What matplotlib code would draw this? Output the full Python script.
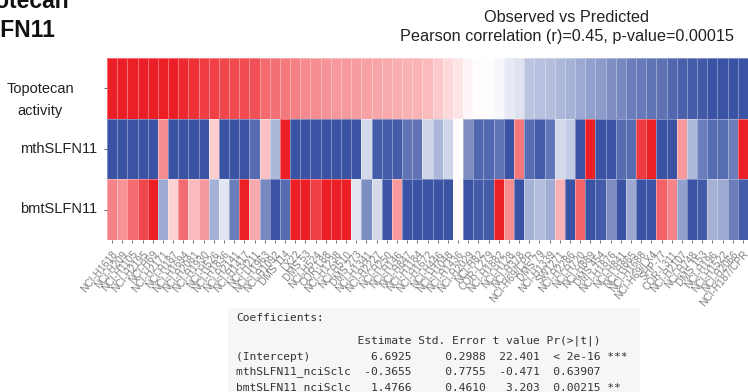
import numpy as np
import matplotlib
matplotlib.use('Agg')
import matplotlib.pyplot as plt
from matplotlib.colors import LinearSegmentedColormap

plt.rcParams['font.family'] = ['Liberation Sans', 'DejaVu Sans']

# cell lines, ordered by topotecan activity
cell_lines = [
    'NCI-H1618', 'NCI-H209', 'NCI-H1105', 'NCI-H2195', 'NCI-H69', 'NCI-H2171', 'NCI-H187',
    'NCI-H1694', 'NCI-H2081', 'NCI-H1930', 'NCI-H526', 'NCI-H1836', 'NCI-H2141', 'NCI-H1417',
    'NCI-H211', 'NCI-H1963', 'NCI-H1092', 'DMS 114', 'LX22', 'DMS 53', 'NCI-H524',
    'COR-L88', 'NCI-H1238', 'NCI-H510', 'DMS 273', 'NCI-H1341', 'NCI-H2227', 'NCI-H250',
    'NCI-H146', 'NCI-H847', 'NCI-H1184', 'NCI-H1672', 'NCI-H446', 'NCI-H1048', 'NCI-H1436',
    'NCI-H2029', 'NCI-H82', 'COR-L279', 'NCI-H1882', 'NCI-H128', 'NCI-H378', 'NCI-H69/CPR',
    'DMS 79', 'NCI-H1339', 'SW1271', 'NCI-H2286', 'NCI-H720', 'NCI-H889', 'DMS 454',
    'NCI-H1876', 'NCI-H841', 'NCI-H865', 'NCI-H1688', 'NCI-H69/LX4', 'SHP-77', 'COR-L311',
    'NCI-H2107', 'NCI-H748', 'DMS 153', 'NCI-H196', 'NCI-H1522', 'NCI-H2066', 'NCI-H187/CPR',
]

row_names = ['Topotecan\nactivity', 'mthSLFN11', 'bmtSLFN11']

# scaled values (-1 .. 1)
topotecan = [
    1.0, 1.0, 1.0, 1.0, 1.0, 1.0, 1.0, 0.96, 0.92, 0.86, 0.85, 0.82, 0.81, 0.80, 0.78,
    0.66, 0.64, 0.60, 0.57, 0.52, 0.50, 0.48, 0.46, 0.45, 0.44, 0.42, 0.40, 0.38, 0.36, 0.35, 0.34,
    0.30, 0.24, 0.17, 0.12, 0.04, 0.01, -0.01, -0.04, -0.12, -0.16, -0.34, -0.36, -0.38, -0.42, -0.45, -0.50,
    -0.55, -0.58, -0.65, -0.68, -0.75, -0.77, -0.80, -0.82, -0.88, -0.92, -0.94, -0.96, -1.0, -1.0, -1.0, -1.0,
]
mth_slfn11 = [
    -1, -1, -1, -1, -1, 0.5, -1, -1, -1, -1, 0.22, -1, -1, -1, -0.85,
    0.28, -0.42, 1.0, -1, -1, -1, -1, -1, -1, -1, -0.22, -0.95, -0.95, -0.95, -0.8, -0.8,
    -0.25, -0.42, -0.25, 0.0, -0.65, -0.88, -0.88, -0.8, -1, 0.6, -0.85, -0.95, -0.8, -0.22, -0.3, -1,
    1.0, -1, -1, -0.85, -0.85, 0.88, 1.0, -1, -1, 0.45, -0.4, -0.75, -0.85, -0.85, -0.75, 1.0,
]
bmt_slfn11 = [
    0.55, 0.48, 0.65, 0.82, 1.0, -0.5, 0.2, 0.65, 0.3, 0.45, -0.45, -0.15, -0.75, 1.0, 0.38,
    -0.68, -1, -0.85, 1.0, 1.0, 0.85, 1.0, 1.0, 1.0, -0.15, -0.65, -0.22, -1, 0.45, -1, -1,
    -1, -1, -1, 0.03, -1, -0.95, -0.95, 1.0, 0.5, -1, -0.45, -0.38, -0.48, 0.35, -1, 0.7,
    -1, -0.95, -0.65, -1, -0.5, -1, -1, 0.7, 0.55, -0.55, -1, -0.95, -0.45, -0.5, -0.75, -0.95,
]

coef_lines = [
    "                  Estimate Std. Error t value Pr(>|t|)    ",
    "(Intercept)         6.6925     0.2988  22.401  < 2e-16 ***",
    "mthSLFN11_nciSclc  -0.3655     0.7755  -0.471  0.63907    ",
    "bmtSLFN11_nciSclc   1.4766     0.4610   3.203  0.00215 ** ",
]

W, H = 748, 392
fig = plt.figure(figsize=(W / 100, H / 100), dpi=100)

cmap = LinearSegmentedColormap.from_list('bwr_pub', ['#3a53a4', '#ffffff', '#ed1f26'])
data = np.array([topotecan, mth_slfn11, bmt_slfn11])

ax = fig.add_axes([107 / W, 1 - 240 / H, 641 / W, 182 / H])
ax.pcolormesh(data, cmap=cmap, vmin=-1, vmax=1, edgecolors=(1, 1, 1, 0.35), linewidth=0.5)
ax.set_xlim(0, data.shape[1])
ax.set_ylim(data.shape[0], 0)
for s in ax.spines.values():
    s.set_visible(False)

ax.set_yticks(np.arange(len(row_names)) + 0.5)
ax.set_yticklabels([])
ax.set_xticks(np.arange(len(cell_lines)) + 0.5)
ax.set_xticklabels(cell_lines, fontsize=7.3, color='#808080', rotation=50,
                   ha='right', rotation_mode='anchor')
ax.tick_params(axis='both', length=2.5, width=0.6, color='#555555', pad=3)
ax.tick_params(axis='x', pad=4)

# row labels placed by hand (multi-line label sits a bit lower)
fig.text(40 / W, 1 - 100 / H, row_names[0], ha='center', va='center', fontsize=10.5,
         color='#222222', linespacing=1.7)
fig.text(97 / W, 1 - 149 / H, row_names[1], ha='right', va='center', fontsize=10.5, color='#222222')
fig.text(97 / W, 1 - 209 / H, row_names[2], ha='right', va='center', fontsize=10.5, color='#222222')

# titles
fig.text(567 / W, 1 - 17 / H, 'Observed vs Predicted', ha='center', va='center',
         fontsize=11.7, color='#222222')
fig.text(567 / W, 1 - 37 / H, 'Pearson correlation (r)=0.45, p-value=0.00015',
         ha='center', va='center', fontsize=11.7, color='#222222')
fig.text(13 / W, 1 - 16 / H, 'Topotecan\nSLFN11', ha='center', va='center',
         fontsize=16.5, fontweight='bold', color='#111111', linespacing=1.38)

# regression output box
fig.patches.append(plt.Rectangle((228 / W, 0), (640 - 228) / W, (H - 308) / H,
                                 transform=fig.transFigure, facecolor='#f6f6f6',
                                 edgecolor='none'))
fig.text(236 / W, 1 - 318 / H, 'Coefficients:', ha='left', va='center',
         family='DejaVu Sans Mono', fontsize=8.1, color='#333333')
for i, line in enumerate(coef_lines):
    fig.text(236 / W, 1 - (341 + 15.5 * i) / H, line, ha='left', va='center',
             family='DejaVu Sans Mono', fontsize=8.1, color='#333333')

plt.savefig('out.png', dpi=100)
plt.close()
